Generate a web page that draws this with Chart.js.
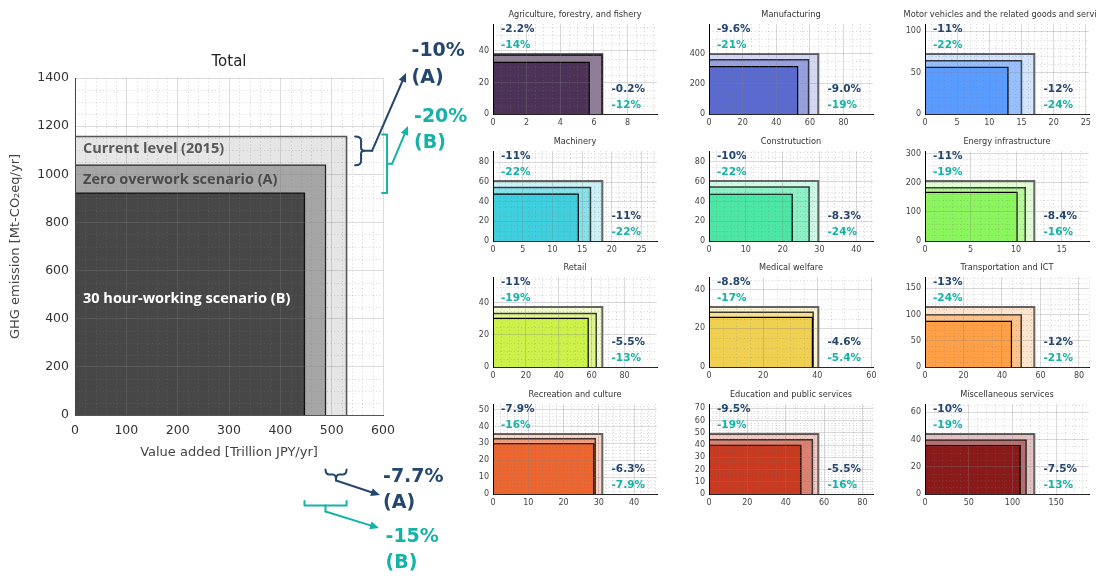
<!DOCTYPE html>
<html><head><meta charset="utf-8">
<script src="https://cdn.jsdelivr.net/npm/chart.js@4.4.1/dist/chart.umd.min.js"></script>
<style>
html,body{margin:0;padding:0;width:1096px;height:576px;overflow:hidden;background:#fff;}
canvas.c{position:absolute;}
</style></head><body>
<script>
// ---------------- DATA ----------------
// Total (all sectors)
const totalScenarios = ['Current level (2015)', 'Zero overwork scenario (A)', '30 hour-working scenario (B)'];
const totalValueAdded = [529, 488, 447];      // Trillion JPY/yr
const totalEmission = [1157, 1038, 922];      // Mt-CO2eq/yr
const totalEmissionChange = ['-10%', '-20%'];      // (A), (B)
const totalValueAddedChange = ['-7.7%', '-15%'];   // (A), (B)
const totalXTickStep = 100, totalYTickStep = 200;
const totalXMax = 600, totalYMax = 1400;

// Sectors
const sectors = ['Agriculture, forestry, and fishery', 'Manufacturing', 'Motor vehicles and the related goods and services',
  'Machinery', 'Construtuction', 'Energy infrastructure',
  'Retail', 'Medical welfare', 'Transportation and ICT',
  'Recreation and culture', 'Education and public services', 'Miscellaneous services'];
const vaCurrent = [6.5, 65, 17.0, 18.4, 29.7, 12.0, 66.5, 40.4, 56.8, 31.0, 57, 125];
const vaA       = [6.49, 59.2, 15.0, 16.4, 27.2, 11.0, 62.8, 38.5, 50.0, 29.0, 53.9, 115.6];
const vaB       = [5.72, 52.7, 12.9, 14.35, 22.6, 10.1, 57.9, 38.2, 44.9, 28.6, 47.9, 108.8];
const ghgCurrent = [38, 398, 72.5, 61, 60.7, 206, 37.3, 31.0, 114.4, 35.5, 49, 44];
const ghgA       = [37.2, 359.8, 64.5, 54.3, 54.6, 183.3, 33.2, 28.3, 99.5, 32.7, 44.3, 39.6];
const ghgB       = [32.7, 314.4, 56.5, 47.6, 47.3, 166.9, 30.2, 25.7, 86.9, 29.8, 39.7, 35.6];
const ghgChangeA = ['-2.2%', '-9.6%', '-11%', '-11%', '-10%', '-11%', '-11%', '-8.8%', '-13%', '-7.9%', '-9.5%', '-10%'];
const ghgChangeB = ['-14%', '-21%', '-22%', '-22%', '-22%', '-19%', '-19%', '-17%', '-24%', '-16%', '-19%', '-19%'];
const vaChangeA  = ['-0.2%', '-9.0%', '-12%', '-11%', '-8.3%', '-8.4%', '-5.5%', '-4.6%', '-12%', '-6.3%', '-5.5%', '-7.5%'];
const vaChangeB  = ['-12%', '-19%', '-24%', '-22%', '-24%', '-16%', '-13%', '-5.4%', '-21%', '-7.9%', '-16%', '-13%'];
const xTickStep = [2, 20, 5, 5, 10, 5, 20, 20, 20, 10, 20, 50];
const yTickStep = [20, 200, 50, 20, 20, 100, 20, 20, 50, 10, 10, 20];

// ---------------- STYLE ----------------
const sectorColors = [[66,37,77],[80,96,202],[79,148,255],[51,204,222],[64,230,159],[132,244,84],
  [202,238,62],[239,205,68],[255,153,57],[235,91,34],[196,45,17],[130,11,11]];
const NAVY = '#24466f', TEAL = '#15b2a7';
const rgba = (c, a) => `rgba(${c[0]},${c[1]},${c[2]},${a})`;

Chart.defaults.font.family = "'DejaVu Sans', Verdana, sans-serif";
Chart.defaults.color = '#333';
Chart.defaults.animation = false;
Chart.defaults.plugins.legend.display = false;
Chart.defaults.plugins.tooltip.enabled = false;

function makeCanvas(left, top, w, h) {
  const c = document.createElement('canvas');
  c.className = 'c';
  c.style.left = left + 'px'; c.style.top = top + 'px';
  c.style.width = w + 'px'; c.style.height = h + 'px';
  c.width = w; c.height = h;
  document.body.appendChild(c);
  return c;
}
function rectDs(w, h, fill, border, bw) {
  return { data: [{x:0,y:0},{x:0,y:h},{x:w,y:h},{x:w,y:0}], showLine: true, fill: 'origin',
    backgroundColor: fill, borderColor: border, borderWidth: bw, pointRadius: 0, tension: 0,
    borderJoinStyle: 'miter' };
}
// ticks at multiples of the step, up to the axis maximum
function stepTicks(step) {
  return s => {
    const t = [];
    for (let k = 0; k * step <= s.max + 1e-9; k++) t.push({ value: Math.round(k * step * 1000) / 1000 });
    s.ticks = t;
  };
}
function minorCount(step) {
  const lead = Math.round(step / Math.pow(10, Math.floor(Math.log10(step))));
  return lead === 2 ? 4 : 5;
}
const minorGrid = {
  id: 'minorGrid',
  afterDatasetsDraw(chart, args, opts) {
    const {ctx, chartArea: ca, scales: {x, y}} = chart;
    ctx.save();
    ctx.strokeStyle = opts.color || 'rgba(110,110,110,0.4)';
    ctx.lineWidth = 1;
    ctx.setLineDash([1, 2.5]);
    const nx = minorCount(opts.xStep), xs = opts.xStep / nx;
    for (let k = 1; k * xs < x.max; k++) {
      if (k % nx === 0) continue;
      const px = Math.round(x.getPixelForValue(k * xs)) + 0.5;
      ctx.beginPath(); ctx.moveTo(px, ca.top); ctx.lineTo(px, ca.bottom); ctx.stroke();
    }
    const ny = minorCount(opts.yStep), ys = opts.yStep / ny;
    for (let k = 1; k * ys < y.max; k++) {
      if (k % ny === 0) continue;
      const py = Math.round(y.getPixelForValue(k * ys)) + 0.5;
      ctx.beginPath(); ctx.moveTo(ca.left, py); ctx.lineTo(ca.right, py); ctx.stroke();
    }
    ctx.restore();
  }
};
function arrowTo(ctx, x1, y1, x2, y2) {
  const a = Math.atan2(y2 - y1, x2 - x1), L = 9, W = 4;
  const bx = x2 - L * Math.cos(a), by = y2 - L * Math.sin(a);
  ctx.beginPath(); ctx.moveTo(x1, y1); ctx.lineTo(bx, by); ctx.stroke();
  ctx.beginPath(); ctx.moveTo(x2, y2);
  ctx.lineTo(bx - W * Math.sin(a), by + W * Math.cos(a));
  ctx.lineTo(bx + W * Math.sin(a), by - W * Math.cos(a));
  ctx.closePath(); ctx.fill();
}

// ---------------- TOTAL CHART ----------------
const totalAnno = {
  id: 'totalAnno',
  afterDraw(chart) {
    const {ctx, chartArea: ca, scales: {x, y}} = chart;
    const xc = x.getPixelForValue(totalValueAdded[0]);
    const xa = x.getPixelForValue(totalValueAdded[1]);
    const xb = x.getPixelForValue(totalValueAdded[2]);
    const yc = y.getPixelForValue(totalEmission[0]);
    const ya = y.getPixelForValue(totalEmission[1]);
    const yb = y.getPixelForValue(totalEmission[2]);
    ctx.save();
    // labels inside rectangles
    ctx.font = "bold 14.5px 'Open Sans', sans-serif";
    ctx.textBaseline = 'middle'; ctx.textAlign = 'left';
    ctx.fillStyle = '#595959'; ctx.fillText(totalScenarios[0], ca.left + 8, yc + 12.5);
    ctx.fillStyle = '#4a4a4a'; ctx.fillText(totalScenarios[1], ca.left + 8, ya + 14.7);
    ctx.fillStyle = '#ffffff'; ctx.fillText(totalScenarios[2], ca.left + 8, yb + 106);

    ctx.lineWidth = 2; ctx.lineCap = 'round'; ctx.lineJoin = 'round';
    // navy curly bracket (emission, A)
    ctx.strokeStyle = NAVY; ctx.fillStyle = NAVY;
    let bx = xc + 8.5, sp = bx + 6, pt = bx + 9, ym = (yc + ya) / 2;
    ctx.beginPath();
    ctx.moveTo(bx, yc); ctx.quadraticCurveTo(sp, yc, sp, yc + 4); ctx.lineTo(sp, ym - 3);
    ctx.quadraticCurveTo(sp, ym, pt, ym); ctx.quadraticCurveTo(sp, ym, sp, ym + 3);
    ctx.lineTo(sp, ya - 4); ctx.quadraticCurveTo(sp, ya, bx, ya); ctx.stroke();
    ctx.beginPath(); ctx.moveTo(pt, ym); ctx.lineTo(pt + 8, ym); ctx.stroke();
    arrowTo(ctx, pt + 8, ym, ca.right + 23, 73);
    // teal square bracket (emission, B)
    ctx.strokeStyle = TEAL; ctx.fillStyle = TEAL;
    bx = xc + 35.5; sp = bx + 5; ym = (yc - 2 + yb) / 2;
    ctx.beginPath(); ctx.moveTo(bx, yc - 2); ctx.lineTo(sp, yc - 2); ctx.lineTo(sp, yb); ctx.lineTo(bx, yb); ctx.stroke();
    ctx.beginPath(); ctx.moveTo(sp, ym); ctx.lineTo(sp + 5, ym); ctx.stroke();
    arrowTo(ctx, sp + 5, ym, ca.right + 25, 126);
    // navy underbrace (value added, A)
    ctx.strokeStyle = NAVY; ctx.fillStyle = NAVY;
    let ty = ca.bottom + 54.5, by = ty + 5, mid = (xa + xc) / 2, sy = by + 6;
    ctx.beginPath();
    ctx.moveTo(xa, ty); ctx.quadraticCurveTo(xa, by, xa + 4, by); ctx.lineTo(mid - 3, by);
    ctx.quadraticCurveTo(mid, by, mid, sy); ctx.quadraticCurveTo(mid, by, mid + 3, by);
    ctx.lineTo(xc - 4, by); ctx.quadraticCurveTo(xc, by, xc, ty); ctx.stroke();
    arrowTo(ctx, mid, sy, ca.right - 3, ca.bottom + 80);
    // teal underbrace (value added, B)
    ctx.strokeStyle = TEAL; ctx.fillStyle = TEAL;
    ty = ca.bottom + 86; by = ty + 4.5; mid = (xb + xc) / 2; sy = by + 6;
    ctx.beginPath();
    ctx.moveTo(xb, ty); ctx.lineTo(xb, by); ctx.lineTo(xc, by); ctx.lineTo(xc, ty); ctx.stroke();
    ctx.beginPath(); ctx.moveTo(mid, by); ctx.lineTo(mid, sy); ctx.stroke();
    arrowTo(ctx, mid, sy, ca.right - 4, ca.bottom + 113);
    // percentage texts
    ctx.font = "bold 19px 'DejaVu Sans', sans-serif";
    ctx.textAlign = 'left'; ctx.textBaseline = 'middle';
    ctx.fillStyle = NAVY;
    ctx.fillText(totalEmissionChange[0], ca.right + 28.5, 50.7);
    ctx.fillText('(A)', ca.right + 28.5, 78.3);
    ctx.fillText(totalValueAddedChange[0], ca.right, ca.bottom + 62);
    ctx.fillText('(A)', ca.right, ca.bottom + 88.5);
    ctx.fillStyle = TEAL;
    ctx.fillText(totalEmissionChange[1], ca.right + 31, 116.7);
    ctx.fillText('(B)', ca.right + 31, 143.3);
    ctx.fillText(totalValueAddedChange[1], ca.right + 2.5, ca.bottom + 122.5);
    ctx.fillText('(B)', ca.right + 2.5, ca.bottom + 148.5);
    ctx.restore();
  }
};

new Chart(makeCanvas(0, 0, 480, 576), {
  type: 'scatter',
  data: { datasets: [
    rectDs(totalValueAdded[2], totalEmission[2], '#474747', '#111', 1.3),
    rectDs(totalValueAdded[1], totalEmission[1], '#a6a6a6', '#222', 1.3),
    rectDs(totalValueAdded[0], totalEmission[0], '#e6e6e6', '#555', 1.6)
  ]},
  options: {
    responsive: false, devicePixelRatio: 1,
    layout: { padding: { left: 0, right: 97, top: 0, bottom: 116 } },
    plugins: {
      title: { display: true, fullSize: false, text: 'Total', color: '#222', font: { size: 15, weight: 'normal' }, padding: { top: 53, bottom: 7 } },
      minorGrid: { xStep: totalXTickStep, yStep: totalYTickStep, color: 'rgba(120,120,120,0.3)' }
    },
    scales: {
      x: { type: 'linear', min: 0, max: totalXMax, bounds: 'data',
        afterBuildTicks: stepTicks(totalXTickStep),
        ticks: { autoSkip: false, maxRotation: 0, padding: 8, color: '#333', font: { size: 12.5 }, callback: v => String(v) },
        grid: { color: 'rgba(128,128,128,0.28)', drawTicks: false, z: 1 },
        border: { color: '#444', width: 1, z: 1 },
        title: { display: true, text: 'Value added [Trillion JPY/yr]', color: '#444', font: { size: 13 }, padding: { top: 0, bottom: 0 } },
        afterFit: s => { s.height = 45; } },
      y: { type: 'linear', min: 0, max: totalYMax, bounds: 'data',
        afterBuildTicks: stepTicks(totalYTickStep),
        ticks: { autoSkip: false, padding: 6, color: '#333', font: { size: 12.5 }, callback: v => String(v) },
        grid: { color: 'rgba(128,128,128,0.28)', drawTicks: false, z: 1 },
        border: { color: '#444', width: 1, z: 1 },
        title: { display: true, text: 'GHG emission [Mt-CO\u2082eq/yr]', color: '#444', font: { size: 13 }, padding: { top: 8, bottom: 0 } },
        afterFit: s => { s.width = 75; } }
    }
  },
  plugins: [minorGrid, totalAnno]
});

// ---------------- SECTOR CHARTS ----------------
const cornerLabels = {
  id: 'cornerLabels',
  afterDraw(chart, args, o) {
    const {ctx, chartArea: ca} = chart;
    ctx.save();
    ctx.font = "bold 10.5px 'DejaVu Sans', sans-serif";
    ctx.textAlign = 'left'; ctx.textBaseline = 'middle';
    ctx.fillStyle = NAVY; ctx.fillText(o.tl[0], ca.left + 8, ca.top + 5.5);
    ctx.fillStyle = TEAL; ctx.fillText(o.tl[1], ca.left + 8, ca.top + 21.5);
    ctx.fillStyle = NAVY; ctx.fillText(o.br[0], ca.left + 118.5, ca.top + 65.5);
    ctx.fillStyle = TEAL; ctx.fillText(o.br[1], ca.left + 118.5, ca.top + 81.5);
    ctx.restore();
  }
};
const COLS = [493, 709, 925], ROWS = [24, 151, 277, 404], PW = 164, PH = 90;
sectors.forEach((name, i) => {
  const pl = COLS[i % 3], pt = ROWS[Math.floor(i / 3)];
  const col = sectorColors[i];
  const tickFont = { size: 8 };
  new Chart(makeCanvas(pl - 30, pt - 22, 30 + PW + 30, 22 + PH + 16), {
    type: 'scatter',
    data: { datasets: [
      rectDs(vaB[i], ghgB[i], rgba(col, 0.85), '#000', 1.2),
      rectDs(vaA[i], ghgA[i], rgba(col, 0.45), 'rgba(0,0,0,0.75)', 1.5),
      rectDs(vaCurrent[i], ghgCurrent[i], rgba(col, 0.25), 'rgba(0,0,0,0.6)', 2)
    ]},
    options: {
      responsive: false, devicePixelRatio: 1,
      layout: { padding: { left: 0, right: 0, top: 0, bottom: 0 } },
      plugins: {
        title: { display: true, text: name, color: '#333', font: { size: 8.2, weight: 'normal' }, padding: { top: 8, bottom: 4.2 } },
        minorGrid: { xStep: xTickStep[i], yStep: yTickStep[i], color: 'rgba(120,120,120,0.3)' },
        cornerLabels: { tl: [ghgChangeA[i], ghgChangeB[i]], br: [vaChangeA[i], vaChangeB[i]] }
      },
      scales: {
        x: { type: 'linear', min: 0, max: vaCurrent[i] * 1.5, bounds: 'data',
          afterBuildTicks: stepTicks(xTickStep[i]),
          ticks: { autoSkip: false, maxRotation: 0, padding: 4, color: '#444', font: tickFont, callback: v => String(v) },
          grid: { color: 'rgba(128,128,128,0.3)', drawTicks: false, z: 1 },
          border: { color: '#000', width: 1, z: 1 },
          afterFit: s => { s.height = 16; } },
        y: { type: 'linear', min: 0, max: ghgCurrent[i] * 1.5, bounds: 'data',
          afterBuildTicks: stepTicks(yTickStep[i]),
          ticks: { autoSkip: false, padding: 4, color: '#444', font: tickFont, callback: v => String(v) },
          grid: { color: 'rgba(128,128,128,0.3)', drawTicks: false, z: 1 },
          border: { color: '#000', width: 1, z: 1 },
          afterFit: s => { s.width = 30; } },
        // empty right-hand spacer so the title centres over the plot
        spacer: { type: 'linear', position: 'right', display: true,
          ticks: { display: false }, grid: { display: false, drawTicks: false }, border: { display: false },
          afterFit: s => { s.width = 30; } }
      }
    },
    plugins: [minorGrid, cornerLabels]
  });
});
</script>
</body></html>
